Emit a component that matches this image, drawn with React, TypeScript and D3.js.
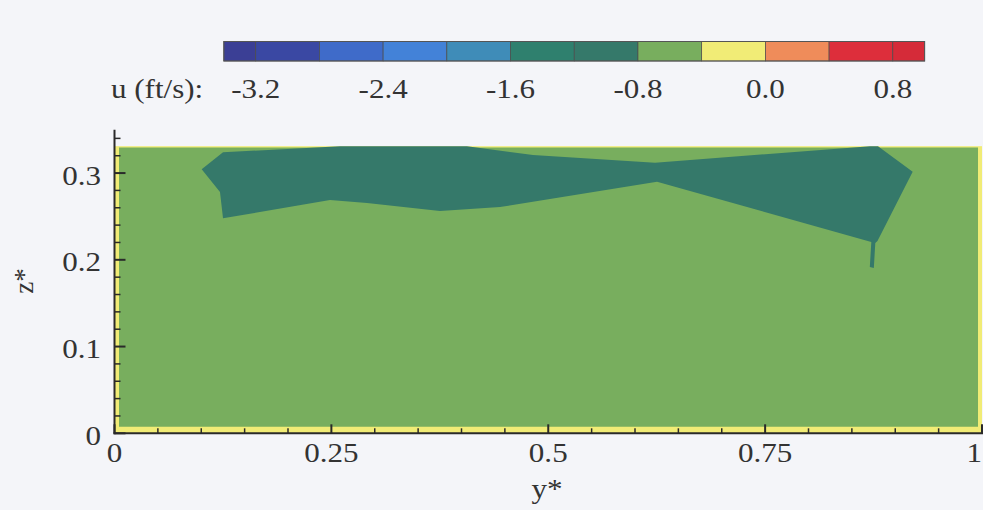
import React from "react";
import * as d3 from "d3";

// Contour levels of streamwise velocity u (ft/s) and their fill colours
const uLevels = [-3.4, -3.2, -2.8, -2.4, -2.0, -1.6, -1.2, -0.8, -0.4, 0.0, 0.4, 0.8, 1.0];
const levelColors = [
  "#3b3f95", "#3a48a3", "#3f6bc9", "#4382d8", "#3f8cb8", "#2f806e",
  "#35796a", "#78ae5e", "#f1ec76", "#ef8c5a", "#dd2e3b", "#d52b39",
];
const colorbarTicks = [-3.2, -2.4, -1.6, -0.8, 0.0, 0.8];

// Axis ticks (y* spanwise, z* vertical)
const yStarTicks = [0, 0.25, 0.5, 0.75, 1];
const yStarMinor = [0.05, 0.1, 0.15, 0.2, 0.3, 0.35, 0.4, 0.45, 0.55, 0.6, 0.65, 0.7, 0.8, 0.85, 0.9, 0.95];
const zStarTicks = [0, 0.1, 0.2, 0.3];
const zStarMinor = [0.02, 0.04, 0.06, 0.08, 0.12, 0.14, 0.16, 0.18, 0.22, 0.24, 0.26, 0.28, 0.32, 0.34];

// Cross-section extent (free surface at z* = 0.331)
const fieldY = [0, 1];
const fieldZ = [0, 0.331];

// u = -0.4 isoline: thin wall layer along the boundaries
const isoMinus04: [number, number][] = [
  [0.0052, 0.0076], [0.9954, 0.0076], [0.9954, 0.3296], [0.0052, 0.3296],
];

// u = -0.8 isoline: low-speed core below the surface
const isoMinus08: [number, number][] = [
  [0.1005, 0.3043], [0.1251, 0.3239], [0.2599, 0.331], [0.4063, 0.331],
  [0.4824, 0.3208], [0.6231, 0.3119], [0.8709, 0.331], [0.8801, 0.331],
  [0.9201, 0.3016], [0.8795, 0.2217], [0.8770, 0.2195], [0.8753, 0.1905],
  [0.8707, 0.1917], [0.8724, 0.2205], [0.6254, 0.2900], [0.4444, 0.2609],
  [0.3752, 0.2563], [0.2911, 0.2655], [0.2484, 0.2689], [0.1251, 0.2478],
  [0.1216, 0.2782],
];

const W = 983;
const H = 510;
const FONT = "'Liberation Serif', 'Times New Roman', serif";
const TEXT = "#333333";

const x = d3.scaleLinear().domain([0, 1]).range([114.5, 982]);
const y = d3.scaleLinear().domain([0, 0.35]).range([433.3, 129.7]);
const cb = d3.scaleLinear().domain([-3.2, 0.8]).range([255.7, 892.8]);

const colorOf = d3.scaleThreshold<number, string>()
  .domain(uLevels.slice(1, -1))
  .range(levelColors);

const line = d3.line<[number, number]>()
  .x((d) => x(d[0]))
  .y((d) => y(d[1]))
  .curve(d3.curveLinearClosed);

function Label({ px, py, text, anchor = "middle", size = 27 }: {
  px: number; py: number; text: string; anchor?: string; size?: number;
}) {
  return (
    <text
      transform={`translate(${px},${py}) scale(1.15,1)`}
      textAnchor={anchor}
      fontFamily={FONT}
      fontSize={size}
      fill={TEXT}
    >
      {text}
    </text>
  );
}

export default function App() {
  const cbTop = 41.5;
  const cbBottom = 61;
  const x0 = x(0);
  const y0 = y(0);

  return (
    <svg
      width={W}
      height={H}
      style={{ position: "absolute", left: 0, top: 0, display: "block" }}
    >
      <rect width={W} height={H} fill="#f4f5f9" />

      {/* colour bar */}
      {levelColors.map((c, i) => (
        <rect
          key={i}
          x={cb(uLevels[i])}
          y={cbTop}
          width={cb(uLevels[i + 1]) - cb(uLevels[i])}
          height={cbBottom - cbTop}
          fill={c}
          stroke="#4a4a4a"
          strokeWidth={0.7}
        />
      ))}
      <rect
        x={cb(uLevels[0])}
        y={cbTop}
        width={cb(uLevels[uLevels.length - 1]) - cb(uLevels[0])}
        height={cbBottom - cbTop}
        fill="none"
        stroke="#555"
        strokeWidth={1}
      />
      <Label px={111} py={98} text="u (ft/s):" anchor="start" />
      {colorbarTicks.map((t) => (
        <Label key={t} px={cb(t)} py={98} text={t.toFixed(1)} />
      ))}

      {/* contour fills */}
      <rect
        x={x(fieldY[0])}
        y={y(fieldZ[1])}
        width={x(fieldY[1]) - x(fieldY[0])}
        height={y(fieldZ[0]) - y(fieldZ[1])}
        fill={colorOf(-0.2)}
      />
      <path d={line(isoMinus04) ?? ""} fill={colorOf(-0.6)} />
      <path d={line(isoMinus08) ?? ""} fill={colorOf(-1.0)} />

      {/* axes */}
      <line x1={x0} x2={x0} y1={y(0.35)} y2={y0 + 1} stroke="#2a2a2a" strokeWidth={2} />
      <line x1={x0 - 1} x2={W} y1={y0} y2={y0} stroke="#2a2a2a" strokeWidth={2} />
      {zStarTicks.map((t) => (
        <line key={`zM${t}`} x1={x0} x2={x0 + 11} y1={y(t)} y2={y(t)} stroke="#2a2a2a" strokeWidth={2} />
      ))}
      {zStarMinor.map((t) => (
        <line key={`zm${t}`} x1={x0} x2={x0 + 6} y1={y(t)} y2={y(t)} stroke="#2a2a2a" strokeWidth={1.5} />
      ))}
      {yStarTicks.map((t) => (
        <line key={`yM${t}`} x1={x(t)} x2={x(t)} y1={y0} y2={y0 - 9} stroke="#2a2a2a" strokeWidth={2} />
      ))}
      {yStarMinor.map((t) => (
        <line key={`ym${t}`} x1={x(t)} x2={x(t)} y1={y0} y2={y0 - 5} stroke="#2a2a2a" strokeWidth={1.5} />
      ))}

      {zStarTicks.map((t) => (
        <Label key={`zl${t}`} px={101} py={y(t) + 11.5} text={t === 0 ? "0" : t.toFixed(1)} anchor="end" />
      ))}
      {yStarTicks.map((t) => (
        <Label
          key={`yl${t}`}
          px={t === 1 ? W - 1 : x(t)}
          py={462}
          text={String(t)}
          anchor={t === 1 ? "end" : "middle"}
        />
      ))}

      <Label px={547} py={498} text="y*" />
      <text
        transform={`translate(33,281) rotate(-90)`}
        textAnchor="middle"
        fontFamily={FONT}
        fontSize={27}
        fill={TEXT}
      >
        z*
      </text>
    </svg>
  );
}
